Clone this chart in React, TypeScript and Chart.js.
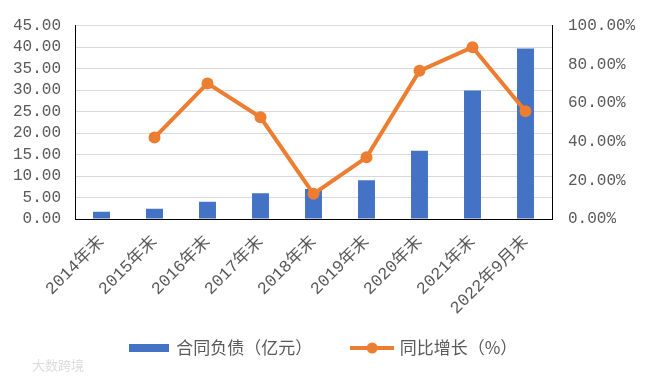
import React, { useEffect, useRef } from 'react';
import { Chart, registerables } from 'chart.js';

Chart.register(...registerables);

const categories = ['2014年末', '2015年末', '2016年末', '2017年末', '2018年末', '2019年末', '2020年末', '2021年末', '2022年9月末'];
const liabilities = [1.7, 2.4, 4.0, 6.0, 7.0, 9.0, 15.9, 29.9, 39.7];
const growthPct = [null, 42.1, 70.1, 52.6, 13.0, 31.9, 76.6, 88.8, 55.7];
const seriesNames = ['合同负债（亿元）', '同比增长（%）'];
const leftAxis = { min: 0, max: 45, step: 5 };
const rightAxis = { min: 0, max: 100, step: 20 };
const watermark = '大数跨境';

const BLUE = '#4472C4';
const ORANGE = '#ED7D31';
const GREY_TEXT = '#595959';
const GRID = '#D9D9D9';
const TICK_FONT = "'Liberation Mono', 'Noto Sans CJK SC', monospace";
const CJK_FONT = "'Noto Sans CJK SC', sans-serif";

const W = 647;
const H = 378;
const PLOT_TOP = 22;
const PLOT_BOTTOM = 219;
const PLOT_LEFT = 75;
const PLOT_RIGHT = 552;
const LEGEND_CENTER_Y = 348;
const LEGEND_FONT = 17;
const LEGEND_GAP = 41;

function barSwatch() {
  const c = document.createElement('canvas');
  c.width = 40;
  c.height = 8;
  const g = c.getContext('2d')!;
  g.fillStyle = BLUE;
  g.fillRect(0, 0, 40, 8);
  return c;
}

function lineSwatch() {
  const c = document.createElement('canvas');
  c.width = 44;
  c.height = 12;
  const g = c.getContext('2d')!;
  g.strokeStyle = ORANGE;
  g.lineWidth = 4;
  g.beginPath();
  g.moveTo(0, 6);
  g.lineTo(44, 6);
  g.stroke();
  g.fillStyle = ORANGE;
  g.beginPath();
  g.arc(22, 6, 5.5, 0, Math.PI * 2);
  g.fill();
  return c;
}

const legendPlacer = {
  id: 'legendPlacer',
  afterLayout(chart: any) {
    const lg = chart.legend;
    if (!lg) return;
    const pad = lg.options.labels.padding;
    const itemH = Math.max(LEGEND_FONT, 12);
    lg.top = LEGEND_CENTER_Y - pad - itemH / 2;
    lg.bottom = chart.height;
    lg.height = lg.bottom - lg.top;
  },
};

const watermarkPlugin = {
  id: 'watermark',
  afterDraw(chart: any) {
    const ctx = chart.ctx;
    ctx.save();
    ctx.font = "13px 'Noto Sans CJK SC', sans-serif";
    ctx.fillStyle = 'rgba(190,190,190,0.55)';
    ctx.textBaseline = 'middle';
    ctx.fillText(watermark, 32, 365);
    ctx.restore();
  },
};

export default function App() {
  const ref = useRef<HTMLCanvasElement | null>(null);

  useEffect(() => {
    if (!ref.current) return;
    const swatches = [barSwatch(), lineSwatch()];
    const chart = new Chart(ref.current, {
      type: 'bar',
      data: {
        labels: categories,
        datasets: [
          {
            type: 'bar',
            label: seriesNames[0],
            data: liabilities,
            backgroundColor: BLUE,
            borderWidth: 0,
            barPercentage: 0.32,
            categoryPercentage: 1,
            yAxisID: 'y',
            order: 2,
          } as any,
          {
            type: 'line',
            label: seriesNames[1],
            data: growthPct,
            borderColor: ORANGE,
            backgroundColor: ORANGE,
            borderWidth: 4,
            pointRadius: 6,
            pointBackgroundColor: ORANGE,
            pointBorderWidth: 0,
            spanGaps: false,
            tension: 0,
            yAxisID: 'y1',
            order: 1,
          } as any,
        ],
      },
      options: {
        responsive: true,
        maintainAspectRatio: false,
        animation: false,
        layout: { padding: { top: PLOT_TOP, right: 0, bottom: 0, left: 0 } },
        plugins: {
          tooltip: { enabled: false },
          legend: {
            position: 'bottom',
            maxHeight: 40,
            labels: {
              usePointStyle: true,
              pointStyleWidth: 38,
              boxHeight: 12,
              padding: LEGEND_GAP,
              color: GREY_TEXT,
              font: { family: CJK_FONT, size: LEGEND_FONT },
              sort: (a: any, b: any) => a.datasetIndex - b.datasetIndex,
              generateLabels: (ch: any) => {
                const items = Chart.defaults.plugins.legend.labels.generateLabels(ch);
                items.forEach((it: any) => {
                  it.pointStyle = swatches[it.datasetIndex];
                });
                return items;
              },
            },
          },
        },
        scales: {
          x: {
            offset: true,
            grid: { display: false, drawTicks: false },
            border: { display: true, color: '#000000', width: 1 },
            ticks: {
              autoSkip: false,
              minRotation: 45,
              maxRotation: 45,
              padding: 13,
              color: GREY_TEXT,
              font: { family: TICK_FONT, size: 17 },
            },
            afterFit: (scale: any) => {
              const lh = scale.chart.legend ? scale.chart.legend.height : 40;
              scale.height = H - PLOT_BOTTOM - lh;
            },
          },
          y: {
            position: 'left',
            min: leftAxis.min,
            max: leftAxis.max,
            ticks: {
              autoSkip: false,
              stepSize: leftAxis.step,
              padding: 14,
              color: GREY_TEXT,
              font: { family: TICK_FONT, size: 16 },
              callback: (v: any) => Number(v).toFixed(2),
            },
            grid: {
              drawTicks: false,
              color: (c: any) => (c.tick && c.tick.value === 0 ? 'rgba(0,0,0,0)' : GRID),
              lineWidth: 1,
            },
            border: { display: true, color: '#000000', width: 1 },
            afterFit: (scale: any) => {
              scale.width = PLOT_LEFT;
            },
          },
          y1: {
            position: 'right',
            min: rightAxis.min,
            max: rightAxis.max,
            ticks: {
              autoSkip: false,
              stepSize: rightAxis.step,
              padding: 16,
              color: GREY_TEXT,
              font: { family: TICK_FONT, size: 16 },
              callback: (v: any) => Number(v).toFixed(2) + '%',
            },
            grid: { display: false, drawTicks: false },
            border: { display: true, color: '#000000', width: 1 },
            afterFit: (scale: any) => {
              scale.width = W - PLOT_RIGHT;
            },
          },
        },
      },
      plugins: [legendPlacer, watermarkPlugin],
    });
    return () => chart.destroy();
  }, []);

  return (
    <div style={{ position: 'fixed', left: 0, top: 0, width: W, height: H, background: '#ffffff' }}>
      <canvas ref={ref} />
    </div>
  );
}
